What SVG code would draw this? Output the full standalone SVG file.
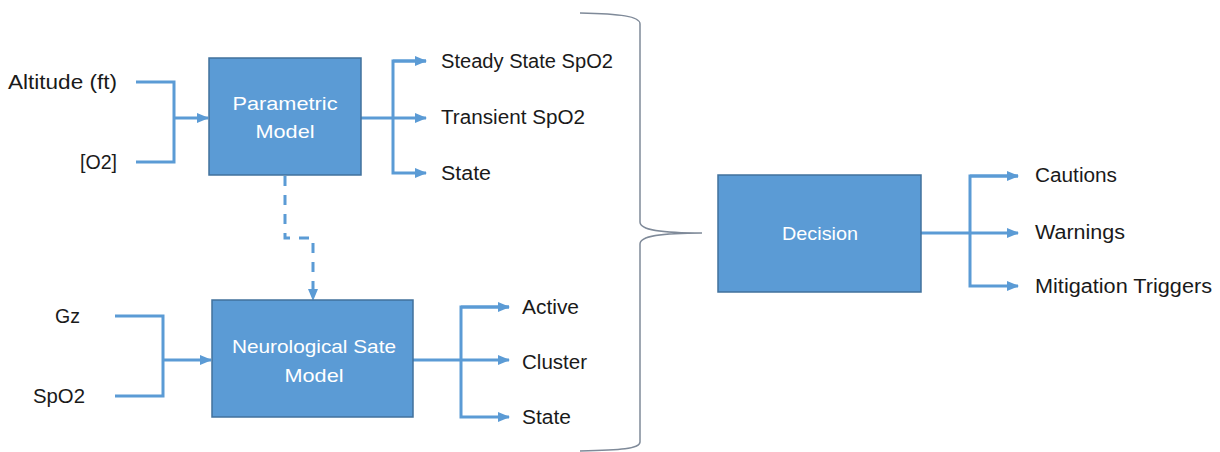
<svg xmlns="http://www.w3.org/2000/svg" width="1220" height="452" viewBox="0 0 1220 452">
<style>
.box{fill:#5b9bd5;stroke:#41719c;stroke-width:1.5}
.ln{fill:none;stroke:#5b9bd5;stroke-width:3}
.dash{fill:none;stroke:#5b9bd5;stroke-width:3;stroke-dasharray:10 9}
.lbl{font-family:"Liberation Sans",Arial,sans-serif;font-size:20px;fill:#1a1a1a}
.in{font-family:"Liberation Sans",Arial,sans-serif;font-size:19px;fill:#ffffff;text-anchor:middle}
.brace{fill:none;stroke:#7f8a99;stroke-width:1.5}
</style>
<defs>
<marker id="arr" viewBox="0 0 12 10" refX="11" refY="5" markerWidth="12" markerHeight="10" markerUnits="userSpaceOnUse" orient="auto">
<path d="M0,0 L12,5 L0,10 z" fill="#5b9bd5"/>
</marker>
</defs>
<rect width="1220" height="452" fill="#ffffff"/>
<g id="connectors">
<path class="ln" d="M136,82 H174 V162 H136"/>
<path class="ln" d="M174,118 H208" marker-end="url(#arr)"/>
<path class="ln" d="M361,118 H426" marker-end="url(#arr)"/>
<path class="ln" d="M426,61 H393 V173 H426" marker-end="url(#arr)"/>
<path class="ln" d="M393,61 H426" marker-end="url(#arr)"/>
<path class="dash" d="M285,176 V238 H313 V300" marker-end="url(#arr)"/>
<path class="ln" d="M115,316 H163 V396 H115"/>
<path class="ln" d="M163,360 H211" marker-end="url(#arr)"/>
<path class="ln" d="M413,360 H509" marker-end="url(#arr)"/>
<path class="ln" d="M509,307 H461 V417 H509" marker-end="url(#arr)"/>
<path class="ln" d="M461,307 H509" marker-end="url(#arr)"/>
<path class="ln" d="M921,233 H1018" marker-end="url(#arr)"/>
<path class="ln" d="M1018,176 H970 V286 H1018" marker-end="url(#arr)"/>
<path class="ln" d="M970,176 H1018" marker-end="url(#arr)"/>
<path class="brace" d="M580,13 C620,14 640,16 640,24 V222 C640,230 660,233 702,233 C660,233 640,236 640,244 V442 C640,449 620,450 580,451"/>
</g>
<g id="inputs">
<text class="lbl" x="8" y="89" textLength="109" lengthAdjust="spacingAndGlyphs">Altitude (ft)</text>
<text class="lbl" x="80" y="169" textLength="37" lengthAdjust="spacingAndGlyphs">[O2]</text>
<text class="lbl" x="55" y="323" textLength="25" lengthAdjust="spacingAndGlyphs">Gz</text>
<text class="lbl" x="33" y="403" textLength="52" lengthAdjust="spacingAndGlyphs">SpO2</text>
</g>
<g id="parametric">
<rect class="box" x="209" y="58" width="152" height="117"/>
<text class="in" x="285" y="110" textLength="105" lengthAdjust="spacingAndGlyphs">Parametric</text>
<text class="in" x="285" y="138" textLength="59" lengthAdjust="spacingAndGlyphs">Model</text>
</g>
<g id="param-outputs">
<text class="lbl" x="441" y="68" textLength="172" lengthAdjust="spacingAndGlyphs">Steady State SpO2</text>
<text class="lbl" x="441" y="124" textLength="144" lengthAdjust="spacingAndGlyphs">Transient SpO2</text>
<text class="lbl" x="441" y="180" textLength="50" lengthAdjust="spacingAndGlyphs">State</text>
</g>
<g id="neuro">
<rect class="box" x="212" y="300" width="201" height="117"/>
<text class="in" x="314" y="353" textLength="164" lengthAdjust="spacingAndGlyphs">Neurological Sate</text>
<text class="in" x="314" y="382" textLength="59" lengthAdjust="spacingAndGlyphs">Model</text>
</g>
<g id="neuro-outputs">
<text class="lbl" x="522" y="314" textLength="57" lengthAdjust="spacingAndGlyphs">Active</text>
<text class="lbl" x="522" y="369" textLength="65" lengthAdjust="spacingAndGlyphs">Cluster</text>
<text class="lbl" x="522" y="424" textLength="49" lengthAdjust="spacingAndGlyphs">State</text>
</g>
<g id="decision">
<rect class="box" x="718" y="175" width="203" height="117"/>
<text class="in" x="820" y="240" textLength="76" lengthAdjust="spacingAndGlyphs">Decision</text>
</g>
<g id="decision-outputs">
<text class="lbl" x="1035" y="182" textLength="82" lengthAdjust="spacingAndGlyphs">Cautions</text>
<text class="lbl" x="1035" y="239" textLength="90" lengthAdjust="spacingAndGlyphs">Warnings</text>
<text class="lbl" x="1035" y="293" textLength="177" lengthAdjust="spacingAndGlyphs">Mitigation Triggers</text>
</g>
</svg>
